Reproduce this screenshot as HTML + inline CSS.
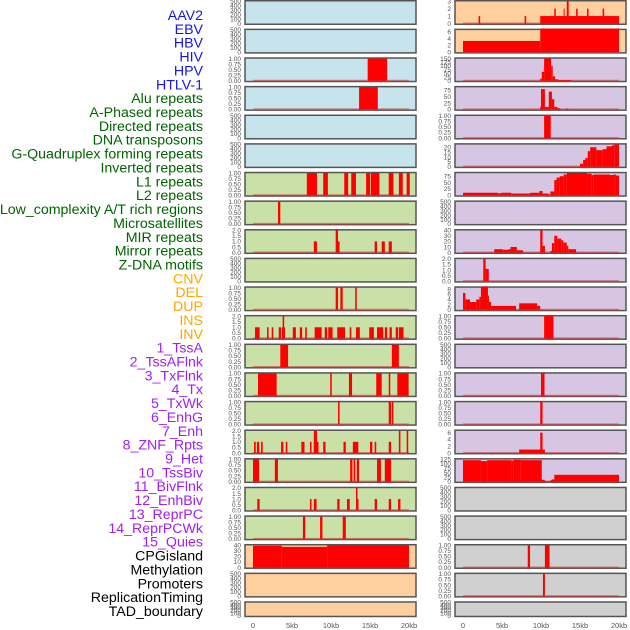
<!DOCTYPE html>
<html><head><meta charset="utf-8"><style>
html,body{margin:0;padding:0;background:#fff;width:630px;height:630px;overflow:hidden}
svg{display:block;font-family:"Liberation Sans",sans-serif}
</style></head><body>
<svg id="chart" width="630" height="630" viewBox="0 0 630 630"></svg>
<script>
// ---- data ----
const featureLabels = ["AAV2","EBV","HBV","HIV","HPV","HTLV-1","Alu repeats","A-Phased repeats","Directed repeats","DNA transposons","G-Quadruplex forming repeats","Inverted repeats","L1 repeats","L2 repeats","Low_complexity A/T rich regions","Microsatellites","MIR repeats","Mirror repeats","Z-DNA motifs","CNV","DEL","DUP","INS","INV","1_TssA","2_TssAFlnk","3_TxFlnk","4_Tx","5_TxWk","6_EnhG","7_Enh","8_ZNF_Rpts","9_Het","10_TssBiv","11_BivFlnk","12_EnhBiv","13_ReprPC","14_ReprPCWk","15_Quies","CPGisland","Methylation","Promoters","ReplicationTiming","TAD_boundary"];
const labelGroups = ["v","v","v","v","v","v","r","r","r","r","r","r","r","r","r","r","r","r","r","s","s","s","s","s","c","c","c","c","c","c","c","c","c","c","c","c","c","c","c","k","k","k","k","k"];
const xTickLabels = ["0","5kb","10kb","15kb","20kb"];
const xTickValues = [0,5,10,15,20];
const leftBg = ["b","b","b","b","b","b","g","g","g","g","g","g","g","g","g","g","g","g","g","o","o","o"];
const rightBg = ["o","o","p","p","p","p","p","p","p","p","p","p","p","p","p","p","p","y","y","y","y","y"];
const leftTicks = ["e","e","p1","p1","e","e","p1","p1","p2","e","p1","p2","p1","p1","p1","p2","p1","p2","p1","c40","e","e"];
const rightTicks = ["r3","r6","r150","r75","p1","r20","r75","e","c40","p2","r8","p1","e","p1","p1","r6","r125","e","e","p1","p1","e"];
const leftSeries = [
 [],[],
 [[14.7,17.2,1]],
 [[13.6,16.0,1]],
 [],[],
 [[6.9,8.2,1],[9.0,9.6,1],[11.7,12.2,1],[12.6,13.2,1],[14.5,15.0,1],[15.1,16.2,1],[17.4,18.0,1],[18.7,19.2,1],[19.7,20.1,1]],
 [[3.2,3.5,1]],
 [[7.8,8.2,1],[10.6,10.9,2],[10.9,11.1,1],[15.6,15.9,1],[16.5,16.9,1],[17.4,17.8,1]],
 [],
 [[10.6,10.9,1],[11.2,11.5,1],[13.1,13.3,1]],
 [[0.26,0.85,1],[1.8,2.0,1],[2.4,2.6,1],[3.3,3.6,1],[3.7,4.1,1],[3.8,4.0,2],[5.1,5.5,1],[6.0,6.3,1],[6.7,6.9,1],[7.9,8.8,1],[9.2,9.5,1],[9.65,10.2,1],[10.8,11.8,1],[12.4,12.6,1],[13.2,13.7,1],[14.9,15.5,1],[15.9,16.7,1],[16.9,17.2,1],[17.5,17.8,1],[18.3,18.6,1],[18.7,19.3,1]],
 [[3.5,4.5,1],[17.8,18.7,1]],
 [[0.64,3.03,1],[9.9,10.1,1],[12.3,12.7,1],[15.8,16.5,1],[17.4,17.6,1],[18.5,19.95,1]],
 [[10.9,11.1,1],[17.4,17.7,1],[17.8,18.0,1]],
 [[0.13,0.35,1],[0.5,0.8,1],[1.03,1.24,1],[3.6,3.9,1],[4.2,4.4,1],[6.2,6.6,1],[7.3,7.5,1],[7.8,8.4,1],[7.8,8.2,2],[9.0,9.3,1],[11.6,11.9,1],[12.8,13.5,1],[15.0,15.3,1],[15.6,15.8,1],[17.4,17.7,1],[18.7,18.9,2],[19.7,19.9,2]],
 [[0,0.77,1],[2.8,3.2,1],[12.45,12.75,1],[12.9,13.1,1],[13.3,13.6,1],[15.9,16.4,1],[16.9,17.7,1]],
 [[0.55,0.85,1],[7.3,7.5,1],[7.8,8.15,1],[10.8,11.1,1],[12.05,12.4,1],[13.2,13.4,2],[13.4,13.5,1],[15.6,15.9,1],[17.4,17.7,1],[18.6,18.9,1]],
 [[6.4,6.7,1],[8.6,8.9,1],[11.5,11.9,1]],
 [[0,3.7,39],[3.7,9.5,37],[9.5,20,39.5]],
 [],[]
];
const rightSeries = [
 [[2.0,2.2,1],[7.9,8.1,1],[9.9,20.0,1],[11.7,11.9,2],[12.9,13.0,2],[13.3,13.55,3],[14.5,14.7,2],[15.9,16.1,2],[17.9,18.1,2]],
 [[0,9.9,3.3],[9.9,20.0,7]],
 [[9.9,10.1,15],[10.1,10.4,60],[10.4,11.3,150],[11.3,11.5,100],[11.5,11.8,30],[11.8,12.2,10],[12.2,13.9,5]],
 [[9.9,10.0,10],[10.0,10.5,80],[10.5,11.0,10],[11.0,11.4,70],[11.4,11.7,40],[11.7,12.1,10],[12.1,12.4,5],[13.2,13.5,3]],
 [[10.4,11.25,1]],
 [[15.0,15.4,3],[15.4,15.7,7],[15.7,16.0,9],[16.0,16.3,16],[16.3,17.1,20],[17.1,17.9,17],[17.9,18.4,18],[18.4,19.1,21],[19.1,19.4,22],[19.4,20.0,23]],
 [[0,4.45,10],[4.45,4.9,8],[4.9,6.2,10],[6.2,8.6,7],[8.6,9.8,10],[9.8,10.2,17],[10.2,11.0,7],[11.0,11.2,3],[11.2,11.7,15],[11.7,12.0,60],[12.0,12.4,70],[12.4,12.9,75],[12.9,13.3,82],[13.3,15.9,88],[15.9,16.5,85],[16.5,16.7,80],[16.7,18.85,82],[18.85,19.3,80],[19.3,19.6,82],[19.6,20.0,78]],
 [],
 [[4.0,5.1,6],[5.1,5.8,5],[5.8,6.1,6],[6.1,6.9,10],[6.9,7.7,4],[9.9,10.2,40],[10.2,10.5,12],[11.2,11.4,3],[11.4,11.7,17],[11.7,12.1,30],[12.1,12.6,25],[12.6,12.85,22],[12.85,13.3,18],[13.3,13.5,12],[13.5,14.5,6]],
 [[2.6,2.9,2],[2.9,3.3,1.1]],
 [[0,0.3,6.5],[0.3,0.9,4],[0.9,1.7,3],[1.7,2.1,4],[2.1,2.3,5],[2.3,3.2,9],[3.2,3.3,5.5],[3.3,3.6,3],[3.6,6.8,1.5],[7.2,9.5,2.5],[9.5,9.9,1.5]],
 [[10.4,11.6,1]],
 [],
 [[10.0,10.45,1]],
 [[9.9,10.2,1]],
 [[7.2,10.5,1],[9.9,10.2,6]],
 [[0,2.3,120],[2.3,3.1,115],[3.1,6.2,120],[6.2,6.5,118],[6.5,7.4,122],[7.4,10.1,120],[10.1,10.5,10],[10.5,11.2,2],[11.2,11.4,8],[11.4,11.7,12],[11.7,20.0,38]],
 [],[],
 [[8.3,8.6,1],[10.5,11.1,1]],
 [[10.25,10.5,1]],
 []
];
const tickSets = {
 e:{max:500,vals:[0,100,200,300,400,500],lab:["0","100","200","300","400","500"]},
 p1:{max:1,vals:[0,0.25,0.5,0.75,1],lab:["0.00","0.25","0.50","0.75","1.00"]},
 p2:{max:2,vals:[0,0.5,1,1.5,2],lab:["0.0","0.5","1.0","1.5","2.0"]},
 c40:{max:40,vals:[0,10,20,30,40],lab:["0","10","20","30","40"]},
 r3:{max:3,vals:[0,1,2,3],lab:["0","1","2","3"]},
 r6:{max:6.6,vals:[0,2,4,6],lab:["0","2","4","6"]},
 r8:{max:8.6,vals:[0,2,4,6,8],lab:["0","2","4","6","8"]},
 r20:{max:23,vals:[0,5,10,15,20],lab:["0","5","10","15","20"]},
 r75:{max:88,vals:[0,25,50,75],lab:["0","25","50","75"]},
 r150:{max:150,vals:[0,25,50,75,100,125,150],lab:["0","25","50","75","100","125","150"]},
 r125:{max:125,vals:[0,25,50,75,100,125],lab:["0","25","50","75","100","125"]}
};
const bgColors = {b:"#c7e4ec",g:"#c9e1a6",o:"#ffd09e",p:"#d6c6e3",y:"#d0d0d0"};
const groupColors = {v:"#1515e6",r:"#006400",s:"#ffa500",c:"#a020f0",k:"#000000"};

// ---- layout ----
const NS="http://www.w3.org/2000/svg";
const svg=document.getElementById("chart");
function mk(tag,attrs,parent){const e=document.createElementNS(NS,tag);for(const k in attrs)e.setAttribute(k,attrs[k]);(parent||svg).appendChild(e);return e;}
const cols=[{x0:245,x1:416,zero:253,name:"left"},{x0:455,x1:626,zero:463,name:"right"}];
const pxPerKb=7.8;
function xScale(col,kb){return col.zero+kb*pxPerKb;}
function panelTop(i){return i*28.63;}
function panelH(i){return i===21?16:25;}
function yScale(i,v,max){const t=panelTop(i)+1.2,b=panelTop(i)+panelH(i)-1.5;return b-(v/max)*(b-t);}

// labels
featureLabels.forEach((t,i)=>{
  const e=mk("text",{x:203,y:15+i*13.86+5,"text-anchor":"end","font-size":"14.2",fill:groupColors[labelGroups[i]]});
  e.textContent=t;
  
  
});

[[leftSeries,leftBg,leftTicks],[rightSeries,rightBg,rightTicks]].forEach(([series,bgs,ticks],ci)=>{
  const col=cols[ci];
  for(let i=0;i<22;i++){
    const g=mk("g",{});
    
    
    const top=panelTop(i),h=panelH(i);
    mk("rect",{x:col.x0,y:top+0.75,width:col.x1-col.x0,height:h-1.5,fill:bgColors[bgs[i]],stroke:"#555","stroke-width":1.5},g);
    const ts=tickSets[ticks[i]];
    ts.vals.forEach((v,k)=>{
      const tl=mk("text",{x:col.x0-4,y:yScale(i,v,ts.max)+2.3,"text-anchor":"end","font-size":"6.5",fill:"#555"},g);
      tl.textContent=ts.lab[k];
      
      
    });
    const data=series[i];
    if(data.length){
      const bl=mk("line",{x1:xScale(col,0),x2:xScale(col,20),y1:yScale(i,0,ts.max),y2:yScale(i,0,ts.max),stroke:"rgba(200,50,50,0.55)","stroke-width":2},g);
      
      
      data.forEach(d=>{
        const x=xScale(col,d[0]),w=Math.max(1,xScale(col,d[1])-x);
        const y=yScale(i,d[2],ts.max),yb=yScale(i,0,ts.max);
        const r=mk("rect",{x:x,y:Math.min(y,yb),width:w,height:Math.abs(yb-y),fill:"#ff0000"},g);
        
        
      });
    }
  }
  xTickValues.forEach((v,k)=>{
    const t=mk("text",{x:xScale(col,v),y:628,"text-anchor":"middle","font-size":"7.5",fill:"#555"});
    t.textContent=xTickLabels[k];
    
    
  });
});
</script>
</body></html>
